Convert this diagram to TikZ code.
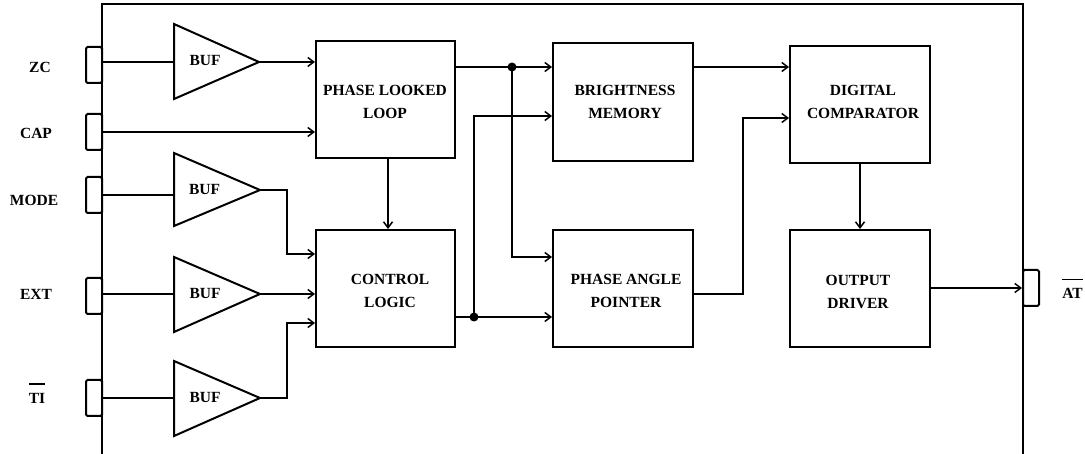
\documentclass[tikz,border=0pt]{standalone}
\usepackage{fontspec}
\setmainfont{Liberation Serif}
\usetikzlibrary{arrows.meta}
\newsavebox{\ovlbox}
\newcommand{\barover}[1]{\sbox{\ovlbox}{#1}\makebox[0pt][l]{\rule[\dimexpr\ht\ovlbox+8pt\relax]{\wd\ovlbox}{1.5pt}}\usebox{\ovlbox}}
\begin{document}
\begin{tikzpicture}[x=1pt,y=-1pt,
  line width=2pt,
  >={Straight Barb[length=6pt,width=9pt,line width=1.5pt]},
  txt/.style={font=\bfseries\fontsize{15.5}{23}\selectfont, inner sep=0pt, align=center},
  blockbox/.style={draw, rectangle, inner sep=0pt, minimum width=139pt, minimum height=117pt},
  pinbox/.style={draw, rectangle, rounded corners=1.5pt, inner sep=0pt, minimum width=16pt, minimum height=36pt},
  bufshape/.style={draw, line join=miter},
  dot/.style={fill=black}]
\useasboundingbox (0,0) rectangle (1085,454);

% chip outline
\draw (102,454) -- (102,4) -- (1023,4) -- (1023,454);

% pins
\node[pinbox] (pZC)   at (94,65) {};
\node[pinbox] (pCAP)  at (94,132) {};
\node[pinbox] (pMODE) at (94,195) {};
\node[pinbox] (pEXT)  at (94,296) {};
\node[pinbox] (pTI)   at (94,398) {};
\node[pinbox] (pAT)   at (1031,288) {};
\draw (102,40) -- (102,454);
\draw (1023,4) -- (1023,454);

% pin labels
\node[txt] (lZC)   at (40,67) {ZC};
\node[txt] (lCAP)  at (36,133.5) {CAP};
\node[txt] (lMODE) at (34,200) {MODE};
\node[txt] (lEXT)  at (36,294) {EXT};
\node[txt, anchor=base] (lTI)   at (37,403) {\barover{TI}};
\node[txt, anchor=base] (lAT)   at (1072.5,298.5) {\barover{AT}};

% buffers
\coordinate (bZCin) at (174,62);    \coordinate (bZCout) at (259,62);
\coordinate (bMODEin) at (174,195); \coordinate (bMODEout) at (260,190);
\coordinate (bEXTin) at (174,294);  \coordinate (bEXTout) at (260,294);
\coordinate (bTIin) at (174,398);   \coordinate (bTIout) at (260,398);
\draw[bufshape] (174,24) -- (174,99) -- (bZCout) -- cycle;
\draw[bufshape] (174,153) -- (174,226) -- (bMODEout) -- cycle;
\draw[bufshape] (174,257) -- (174,332) -- (bEXTout) -- cycle;
\draw[bufshape] (174,361) -- (174,436) -- (bTIout) -- cycle;
\node[txt] (tbZC)   at (205,61) {BUF};
\node[txt] (tbMODE) at (204.5,189) {BUF};
\node[txt] (tbEXT)  at (205,293.5) {BUF};
\node[txt] (tbTI)   at (205,397.5) {BUF};

% blocks
\node[blockbox] (PLL) at (385.5,99.5) {};
\node[blockbox] (CL)  at (385.5,288.5) {};
\node[blockbox, minimum width=140pt, minimum height=118pt] (BM) at (623,102) {};
\node[blockbox, minimum width=140pt] (PAP) at (623,288.5) {};
\node[blockbox, minimum width=140pt] (DC)  at (860,104.5) {};
\node[blockbox, minimum width=140pt] (OD)  at (860,288.5) {};

\node[txt] (tPLL) at (385,101.5) {PHASE LOOKED\\LOOP};
\node[txt] (tCL)  at (390,291) {CONTROL\\LOGIC};
\node[txt] (tBM)  at (625,102) {BRIGHTNESS\\MEMORY};
\node[txt] (tPAP) at (626,291) {PHASE ANGLE\\POINTER};
\node[txt] (tDC)  at (863,102) {DIGITAL\\COMPARATOR};
\node[txt] (tOD)  at (858,291.5) {OUTPUT\\DRIVER};

% input connections
\draw (pZC.east |- bZCin) -- (bZCin);
\draw[->] (bZCout) -- (PLL.west |- bZCout);
\draw[->] (pCAP.east) -- (PLL.west |- pCAP.east);
\draw (pMODE.east |- bMODEin) -- (bMODEin);
\draw[->] (bMODEout) -- (287,190) |- (CL.west |- 0,254);
\draw (pEXT.east |- bEXTin) -- (bEXTin);
\draw[->] (bEXTout) -- (CL.west |- bEXTout);
\draw (pTI.east |- bTIin) -- (bTIin);
\draw[->] (bTIout) -- (287,398) |- (CL.west |- 0,323);

% internal connections
\draw[->] ([xshift=2.5pt]PLL.south) -- ([xshift=2.5pt]CL.north);
\coordinate (J1) at (512,67);
\coordinate (J2) at (474,317);
\draw[->] (PLL.east |- J1) -- (BM.west |- J1);
\draw[->] (J1) |- (PAP.west |- 0,257);
\draw[->] (CL.east |- J2) -- (PAP.west |- J2);
\draw[->] (J2) |- (BM.west |- 0,116);
\fill[dot] (J1) circle (4.5pt);
\fill[dot] (J2) circle (4.5pt);
\draw[->] (BM.east |- 0,67) -- (DC.west |- 0,67);
\draw[->] (PAP.east |- 0,294) -- (743,294) |- (DC.west |- 0,118);
\draw[->] (DC.south) -- (OD.north);
\draw[->] (OD.east |- 0,288) -- (pAT.west |- 0,288);
\end{tikzpicture}
\end{document}
